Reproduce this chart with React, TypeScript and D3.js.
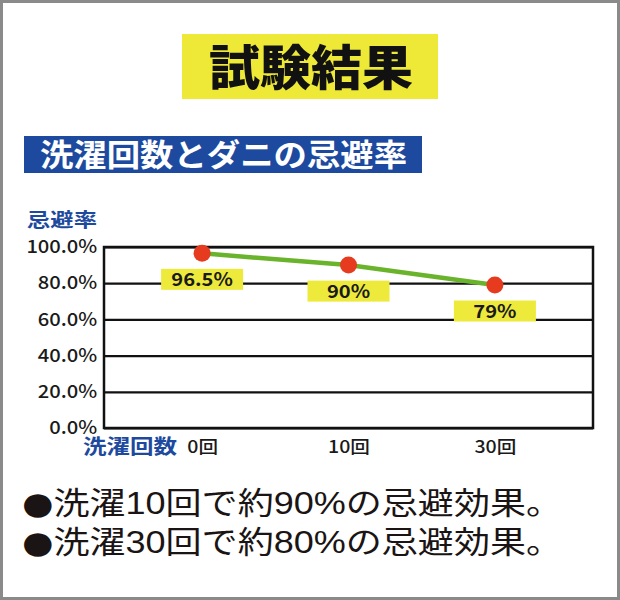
import React, { useEffect, useRef } from 'react';
import * as d3 from 'd3';

const categories = ['0回', '10回', '30回'];
const values = [96.5, 90, 79];
const valueLabels = ['96.5%', '90%', '79%'];
const yTicks = [0, 20, 40, 60, 80, 100];
const bulletLines = ['洗濯10回で約90%の忌避効果。', '洗濯30回で約80%の忌避効果。'];

const W = 620;
const H = 600;
const FONT = '"Noto Sans CJK JP", "Noto Sans", sans-serif';
const NOTE_FONT = '"Liberation Sans", "Noto Sans CJK JP", sans-serif';
// the source art is a little wider than tall, so stretch small text sideways
const SX = 1.12;

const App: React.FC = () => {
  const svgRef = useRef<SVGSVGElement | null>(null);

  useEffect(() => {
    const svg = d3.select(svgRef.current);
    svg.selectAll('*').remove();

    // page frame
    svg
      .append('rect')
      .attr('x', 1.5)
      .attr('y', 1.5)
      .attr('width', W - 3)
      .attr('height', H - 3)
      .attr('fill', '#fff')
      .attr('stroke', '#8a8a8a')
      .attr('stroke-width', 3);

    // title
    svg.append('rect').attr('x', 182).attr('y', 34).attr('width', 256).attr('height', 65).attr('fill', '#eee936');
    svg
      .append('text')
      .attr('x', 311)
      .attr('y', 68)
      .attr('dy', '0.36em')
      .attr('text-anchor', 'middle')
      .attr('font-family', FONT)
      .attr('font-weight', 900)
      .attr('font-size', 48)
      .attr('textLength', 204)
      .attr('lengthAdjust', 'spacingAndGlyphs')
      .attr('fill', '#111')
      .text('試験結果');

    // subtitle
    svg.append('rect').attr('x', 24).attr('y', 136).attr('width', 398).attr('height', 37).attr('fill', '#1d4a9e');
    svg
      .append('text')
      .attr('x', 40)
      .attr('y', 155)
      .attr('dy', '0.36em')
      .attr('font-family', FONT)
      .attr('font-weight', 700)
      .attr('font-size', 31)
      .attr('textLength', 367)
      .attr('lengthAdjust', 'spacingAndGlyphs')
      .attr('fill', '#fff')
      .text('洗濯回数とダニの忌避率');

    const left = 104;
    const right = 593;
    const top = 247;
    const bottom = 428;

    const x = d3.scalePoint<string>().domain(categories).range([left, right]).padding(0.67);
    const y = d3.scaleLinear().domain([0, 100]).range([bottom, top]);

    // y axis with gridlines
    const yAxis = d3
      .axisLeft(y)
      .tickValues(yTicks)
      .tickFormat(d => `${(+d).toFixed(1)}%`)
      .tickSize(-(right - left))
      .tickPadding(6);
    const gy = svg.append('g').attr('transform', `translate(${left},0)`).call(yAxis);
    gy.select('.domain').remove();
    gy.selectAll('line').attr('stroke', '#111').attr('stroke-width', 2.2);
    gy.selectAll('text')
      .attr('transform', `scale(${SX},1)`)
      .attr('font-family', FONT)
      .attr('font-weight', 500)
      .attr('font-size', 18)
      .attr('fill', '#1a1a1a');

    svg
      .append('rect')
      .attr('x', left)
      .attr('y', top)
      .attr('width', right - left)
      .attr('height', bottom - top)
      .attr('fill', 'none')
      .attr('stroke', '#111')
      .attr('stroke-width', 2.5);

    svg
      .append('text')
      .attr('x', 27)
      .attr('y', 220)
      .attr('dy', '0.36em')
      .attr('font-family', FONT)
      .attr('font-weight', 700)
      .attr('font-size', 19)
      .attr('textLength', 70)
      .attr('lengthAdjust', 'spacingAndGlyphs')
      .attr('fill', '#1d4a9e')
      .text('忌避率');

    // x axis
    const xAxis = d3.axisBottom(x).tickSize(0).tickPadding(0);
    const gx = svg.append('g').attr('transform', 'translate(0,447)').call(xAxis);
    gx.select('.domain').remove();
    gx.selectAll('text')
      .attr('y', 0)
      .attr('dy', '0.36em')
      .attr('transform', `scale(${SX},1)`)
      .attr('font-family', FONT)
      .attr('font-weight', 500)
      .attr('font-size', 17.5)
      .attr('fill', '#1a1a1a');

    svg
      .append('text')
      .attr('x', 83)
      .attr('y', 447)
      .attr('dy', '0.36em')
      .attr('font-family', FONT)
      .attr('font-weight', 700)
      .attr('font-size', 20)
      .attr('textLength', 94)
      .attr('lengthAdjust', 'spacingAndGlyphs')
      .attr('fill', '#1d4a9e')
      .text('洗濯回数');

    // series line
    const pts = categories.map((c, i) => ({ c, v: values[i], label: valueLabels[i] }));
    svg
      .append('path')
      .datum(pts)
      .attr('fill', 'none')
      .attr('stroke', '#6ab42b')
      .attr('stroke-width', 4.5)
      .attr(
        'd',
        d3
          .line<{ c: string; v: number }>()
          .x(d => x(d.c)!)
          .y(d => y(d.v))
      );

    // value labels
    const lab = svg.selectAll('g.lab').data(pts).enter().append('g').attr('class', 'lab');
    lab
      .append('rect')
      .attr('x', d => x(d.c)! - 41)
      .attr('y', d => y(d.v) + 15.5)
      .attr('width', 82)
      .attr('height', 21)
      .attr('fill', '#eeea3c');
    lab
      .append('text')
      .attr('transform', d => `translate(${x(d.c)},${y(d.v) + 26}) scale(${SX},1)`)
      .attr('dy', '0.36em')
      .attr('text-anchor', 'middle')
      .attr('font-family', FONT)
      .attr('font-weight', 700)
      .attr('font-size', 18)
      .attr('fill', '#1a1a1a')
      .text(d => d.label);

    // points
    svg
      .selectAll('circle.pt')
      .data(pts)
      .enter()
      .append('circle')
      .attr('class', 'pt')
      .attr('cx', d => x(d.c)!)
      .attr('cy', d => y(d.v))
      .attr('r', 8.5)
      .attr('fill', '#e63b1f');

    // bullet notes
    const notes = svg
      .selectAll('text.note')
      .data(bulletLines)
      .enter()
      .append('text')
      .attr('class', 'note')
      .attr('x', 22)
      .attr('y', (_, i) => 514 + i * 39)
      .attr('font-family', NOTE_FONT)
      .attr('font-size', 31)
      .attr('textLength', 540)
      .attr('lengthAdjust', 'spacingAndGlyphs')
      .attr('fill', '#1a1414');
    notes.append('tspan').attr('font-family', '"DejaVu Sans", sans-serif').text('●');
    notes.append('tspan').text(d => d);
  }, []);

  return (
    <svg
      ref={svgRef}
      width={W}
      height={H}
      style={{ position: 'absolute', left: 0, top: 0, display: 'block' }}
    />
  );
};

export default App;
